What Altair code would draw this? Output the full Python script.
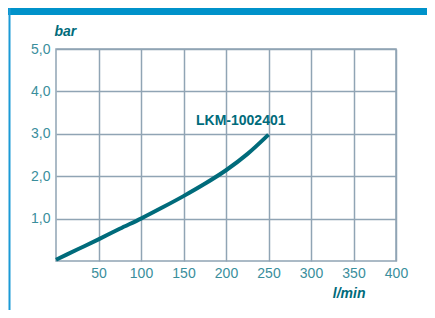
import altair as alt
import pandas as pd

# ---- data ----
flow = [0, 25, 50, 75, 100, 125, 150, 175, 200, 225, 250]          # l/min
pressure = [0.03, 0.27, 0.51, 0.76, 1.00, 1.26, 1.53, 1.82, 2.14, 2.52, 2.98]  # bar
series_label = "LKM-1002401"
x_ticks = [50, 100, 150, 200, 250, 300, 350, 400]
y_ticks = [1, 2, 3, 4, 5]

df = pd.DataFrame({"flow": flow, "pressure": pressure})
last = pd.DataFrame({"flow": [flow[-1]], "pressure": [pressure[-1]], "label": [series_label]})

FONT = "Liberation Sans"
GRID = "#90A4B4"
LINE = "#006B7B"
LABEL = "#3A8E9C"
BLUE = "#0092CA"

x = alt.X(
    "flow:Q",
    scale=alt.Scale(domain=[0, 400], nice=False, zero=True),
    axis=alt.Axis(
        values=x_ticks, grid=True, ticks=False, domain=False, labelFlush=False,
        labelPadding=5, labelFont=FONT, labelFontSize=14, labelColor=LABEL,
        title="l/min", titleFont=FONT, titleFontSize=14, titleFontStyle="italic",
        titleFontWeight="bold", titleColor=LINE, titleAlign="right",
        titleBaseline="alphabetic", titleX=309, titleY=36,
    ),
)
y = alt.Y(
    "pressure:Q",
    scale=alt.Scale(domain=[0, 5], nice=False),
    axis=alt.Axis(
        values=y_ticks, grid=True, ticks=False, domain=False, labelFlush=False,
        labelPadding=6, labelFont=FONT, labelFontSize=14, labelColor=LABEL,
        labelExpr="replace(format(datum.value, '.1f'), '.', ',')",
        title="bar", titleFont=FONT, titleFontSize=14, titleFontStyle="italic",
        titleFontWeight="bold", titleColor=LINE, titleAngle=0, titleAlign="left",
        titleBaseline="alphabetic", titleX=-2, titleY=-14,
    ),
)

curve = alt.Chart(df).mark_line(
    color=LINE, strokeWidth=4, interpolate="monotone", strokeCap="butt"
).encode(x=x, y=y)

label = alt.Chart(last).mark_text(
    font=FONT, fontSize=14, fontWeight="bold", color=LINE,
    align="right", baseline="alphabetic", dx=17, dy=-10,
).encode(x="flow:Q", y="pressure:Q", text="label:N")

one = alt.Data(values=[{}])
top_bar = alt.Chart(one).mark_rule(color=BLUE, strokeWidth=7).encode(
    x=alt.value(-48), x2=alt.value(371), y=alt.value(-37.5)
)
left_line = alt.Chart(one).mark_rule(color="#1B9AD6", strokeWidth=2).encode(
    x=alt.value(-46.5), y=alt.value(-41), y2=alt.value(261)
)

chart = alt.layer(curve, label, top_bar, left_line).properties(
    width=340, height=212,
    autosize=alt.AutoSizeParams(type="none"),
    padding={"left": 48, "top": 41, "right": 31, "bottom": 49},
    background="white",
).configure_view(
    stroke=GRID, strokeWidth=1.5
).configure_axis(
    gridColor=GRID, gridWidth=1.5, gridOpacity=1
)

chart.save("out.html", embed_options={"renderer": "svg", "actions": False})
